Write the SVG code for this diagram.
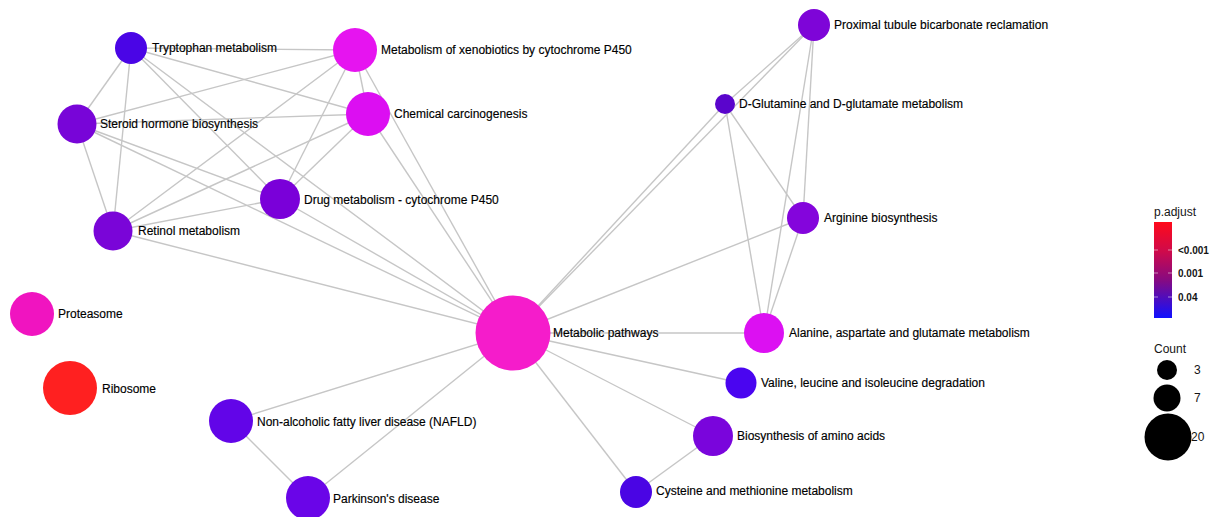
<svg xmlns="http://www.w3.org/2000/svg" width="1215" height="517" viewBox="0 0 1215 517">
<defs>
<style>
.e{stroke:#c6c6c6;stroke-width:1.4;fill:none}
.l{font-family:"Liberation Sans",Arial,sans-serif;font-size:12px;fill:#000000;stroke:#000000;stroke-width:0.15}
.lg{font-family:"Liberation Sans",Arial,sans-serif;font-size:12px;fill:#151515}
.tk{font-family:"Liberation Sans",Arial,sans-serif;font-size:10px;fill:#151515;font-weight:bold}
</style>
<linearGradient id="pg" x1="0" y1="0" x2="0" y2="1">
<stop offset="0" stop-color="#ff0a1a"/>
<stop offset="0.3" stop-color="#d00a4a"/>
<stop offset="0.6" stop-color="#880a80"/>
<stop offset="1" stop-color="#1010ff"/>
</linearGradient>
</defs>
<rect width="1215" height="517" fill="#ffffff"/>
<g id="connectors">
<line class="e" x1="131" y1="48" x2="355" y2="50"/>
<line class="e" x1="131" y1="48" x2="77" y2="124"/>
<line class="e" x1="131" y1="48" x2="113" y2="231"/>
<line class="e" x1="131" y1="48" x2="368" y2="114"/>
<line class="e" x1="131" y1="48" x2="280" y2="199"/>
<line class="e" x1="131" y1="48" x2="513" y2="333"/>
<line class="e" x1="77" y1="124" x2="355" y2="50"/>
<line class="e" x1="77" y1="124" x2="368" y2="114"/>
<line class="e" x1="77" y1="124" x2="280" y2="199"/>
<line class="e" x1="77" y1="124" x2="113" y2="231"/>
<line class="e" x1="77" y1="124" x2="513" y2="333"/>
<line class="e" x1="113" y1="231" x2="355" y2="50"/>
<line class="e" x1="113" y1="231" x2="368" y2="114"/>
<line class="e" x1="113" y1="231" x2="280" y2="199"/>
<line class="e" x1="113" y1="231" x2="513" y2="333"/>
<line class="e" x1="280" y1="199" x2="355" y2="50"/>
<line class="e" x1="280" y1="199" x2="368" y2="114"/>
<line class="e" x1="280" y1="199" x2="513" y2="333"/>
<line class="e" x1="355" y1="50" x2="368" y2="114"/>
<line class="e" x1="355" y1="50" x2="513" y2="333"/>
<line class="e" x1="368" y1="114" x2="513" y2="333"/>
<line class="e" x1="513" y1="333" x2="725" y2="104"/>
<line class="e" x1="513" y1="333" x2="814" y2="25"/>
<line class="e" x1="814" y1="25" x2="725" y2="104"/>
<line class="e" x1="814" y1="25" x2="803" y2="218"/>
<line class="e" x1="814" y1="25" x2="764" y2="333"/>
<line class="e" x1="725" y1="104" x2="803" y2="218"/>
<line class="e" x1="725" y1="104" x2="764" y2="333"/>
<line class="e" x1="803" y1="218" x2="764" y2="333"/>
<line class="e" x1="803" y1="218" x2="513" y2="333"/>
<line class="e" x1="513" y1="333" x2="764" y2="333"/>
<line class="e" x1="513" y1="333" x2="741" y2="383"/>
<line class="e" x1="513" y1="333" x2="713" y2="436"/>
<line class="e" x1="513" y1="333" x2="636" y2="492"/>
<line class="e" x1="713" y1="436" x2="636" y2="492"/>
<line class="e" x1="513" y1="333" x2="231" y2="421"/>
<line class="e" x1="513" y1="333" x2="308" y2="498"/>
<line class="e" x1="231" y1="421" x2="308" y2="498"/>
</g>
<g id="n-tryptophan"><circle cx="131" cy="48" r="16" fill="#4a05e6"/><text class="l" x="152" y="52">Tryptophan metabolism</text></g>
<g id="n-steroid"><circle cx="77" cy="124" r="19.5" fill="#7805d8"/><text class="l" x="100" y="128">Steroid hormone biosynthesis</text></g>
<g id="n-retinol"><circle cx="113" cy="231" r="19.5" fill="#7a05d8"/><text class="l" x="138" y="235">Retinol metabolism</text></g>
<g id="n-drug"><circle cx="280" cy="199" r="20" fill="#7a00d9"/><text class="l" x="304" y="204">Drug metabolism - cytochrome P450</text></g>
<g id="n-xeno"><circle cx="355" cy="50" r="22" fill="#e614f0"/><text class="l" x="381" y="54">Metabolism of xenobiotics by cytochrome P450</text></g>
<g id="n-chem"><circle cx="368" cy="114" r="22" fill="#dc0ef2"/><text class="l" x="394" y="118">Chemical carcinogenesis</text></g>
<g id="n-proximal"><circle cx="814" cy="25" r="16" fill="#7e05d8"/><text class="l" x="834" y="29">Proximal tubule bicarbonate reclamation</text></g>
<g id="n-dglu"><circle cx="725" cy="104" r="10" fill="#5a05cc"/><text class="l" x="739" y="108">D-Glutamine and D-glutamate metabolism</text></g>
<g id="n-arginine"><circle cx="803" cy="218" r="16" fill="#8405dc"/><text class="l" x="824" y="222">Arginine biosynthesis</text></g>
<g id="n-metabolic"><circle cx="513" cy="333" r="37.5" fill="#f51ccb"/><text class="l" x="553" y="337">Metabolic pathways</text></g>
<g id="n-alanine"><circle cx="764" cy="333" r="20" fill="#dc10f2"/><text class="l" x="789" y="337">Alanine, aspartate and glutamate metabolism</text></g>
<g id="n-valine"><circle cx="741" cy="383" r="15.5" fill="#4a05f0"/><text class="l" x="761" y="387">Valine, leucine and isoleucine degradation</text></g>
<g id="n-biosyn"><circle cx="713" cy="436" r="20" fill="#7a05dc"/><text class="l" x="737" y="440">Biosynthesis of amino acids</text></g>
<g id="n-cysteine"><circle cx="636" cy="492" r="16" fill="#4a05e4"/><text class="l" x="656" y="495">Cysteine and methionine metabolism</text></g>
<g id="n-proteasome"><circle cx="32" cy="314" r="22" fill="#f014c0"/><text class="l" x="58" y="318">Proteasome</text></g>
<g id="n-ribosome"><circle cx="70" cy="388" r="27" fill="#ff2020"/><text class="l" x="102" y="393">Ribosome</text></g>
<g id="n-nafld"><circle cx="231" cy="421" r="22" fill="#6205e8"/><text class="l" x="257" y="426">Non-alcoholic fatty liver disease (NAFLD)</text></g>
<g id="n-parkinson"><circle cx="308" cy="498" r="22" fill="#6a05e8"/><text class="l" x="333" y="503">Parkinson's disease</text></g>
<g id="legend">
<text class="lg" x="1154" y="216">p.adjust</text>
<rect x="1154" y="222" width="18" height="96" fill="url(#pg)"/>
<g stroke="#ffffff" stroke-opacity="0.5" stroke-width="1">
<line x1="1154" y1="250" x2="1158" y2="250"/><line x1="1168" y1="250" x2="1172" y2="250"/>
<line x1="1154" y1="273" x2="1158" y2="273"/><line x1="1168" y1="273" x2="1172" y2="273"/>
<line x1="1154" y1="297" x2="1158" y2="297"/><line x1="1168" y1="297" x2="1172" y2="297"/>
</g>
<text class="tk" x="1178" y="254">&lt;0.001</text>
<text class="tk" x="1178" y="277">0.001</text>
<text class="tk" x="1178" y="301">0.04</text>
<text class="lg" x="1154" y="353">Count</text>
<circle cx="1167" cy="370" r="10" fill="#000000"/>
<circle cx="1167" cy="398" r="13.5" fill="#000000"/>
<circle cx="1168" cy="437" r="23.5" fill="#000000"/>
<text class="lg" x="1194" y="374">3</text>
<text class="lg" x="1194" y="402">7</text>
<text class="lg" x="1191" y="441">20</text>
</g>
</svg>
